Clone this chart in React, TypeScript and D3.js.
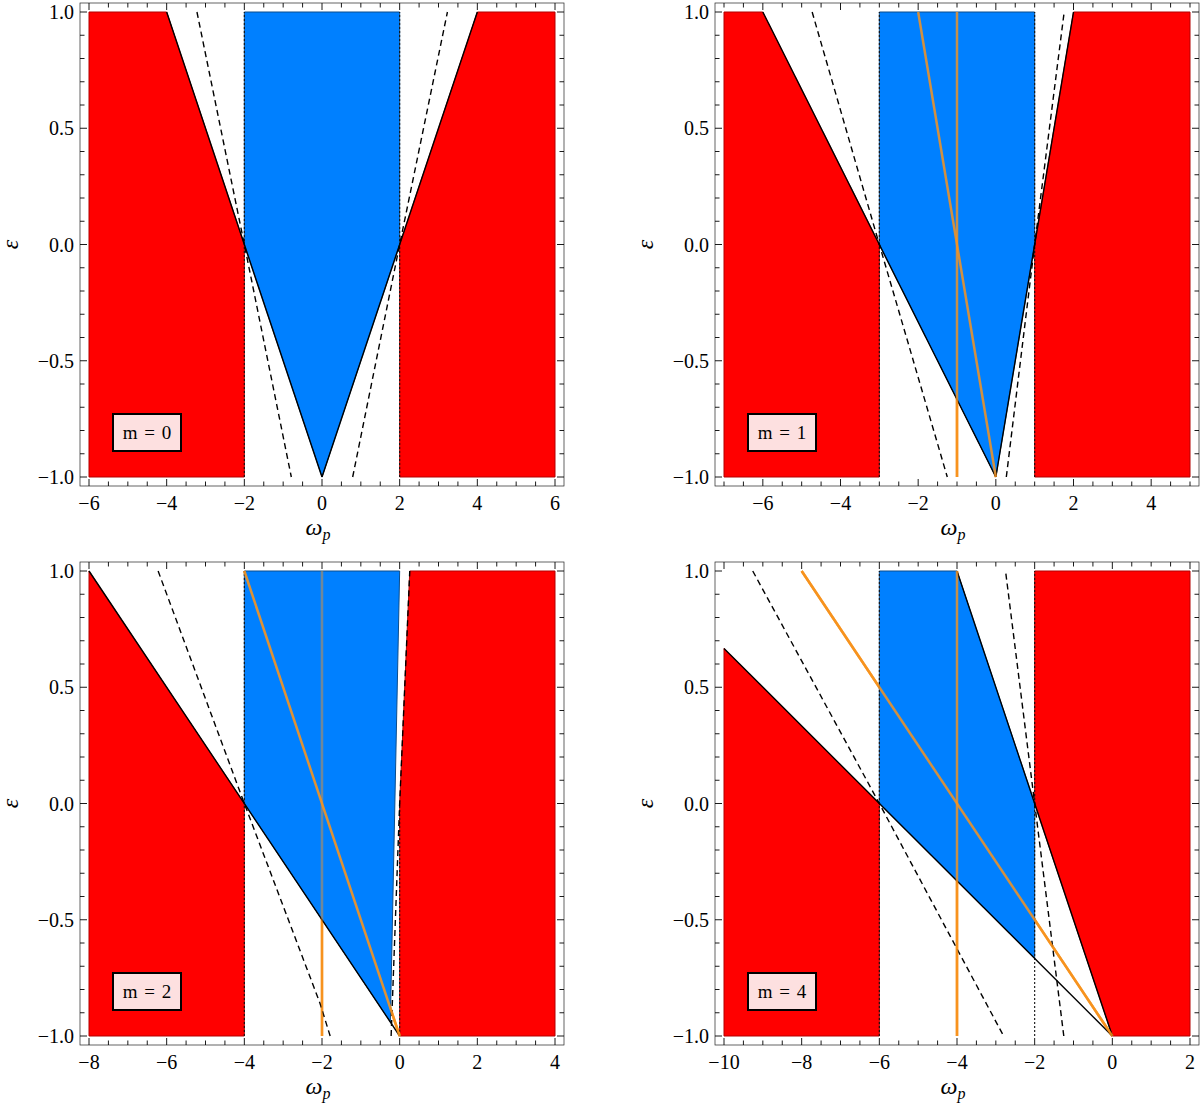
import React from 'react';
import * as d3 from 'd3';

type Pt = [number, number];

// ---------- data ----------
const panelLabels = ['m = 0', 'm = 1', 'm = 2', 'm = 4'];
const xDomains: Pt[] = [[-6, 6], [-7, 5], [-8, 4], [-10, 2]];
const yDomain: Pt = [-1, 1];
const xTickLabels = [
  [-6, -4, -2, 0, 2, 4, 6],
  [-6, -4, -2, 0, 2, 4],
  [-8, -6, -4, -2, 0, 2, 4],
  [-10, -8, -6, -4, -2, 0, 2],
];
const yTickLabels = [-1, -0.5, 0, 0.5, 1];

const redLeft: Pt[][] = [
  [[-6, 1], [-4, 1], [-2, 0], [-2, -1], [-6, -1]],
  [[-7, 1], [-6, 1], [-3, 0], [-3, -1], [-7, -1]],
  [[-8, 1], [-4, 0], [-4, -1], [-8, -1]],
  [[-10, 0.667], [-6, 0], [-6, -1], [-10, -1]],
];
const redRight: Pt[][] = [
  [[2, -1], [2, 0], [4, 1], [6, 1], [6, -1]],
  [[1, -1], [1, 0], [2, 1], [5, 1], [5, -1]],
  [[0, -1], [0, 0], [0.26, 1], [4, 1], [4, -1]],
  [[-2, 1], [2, 1], [2, -1], [0, -1], [-2, 0]],
];
const blueRegion: Pt[][] = [
  [[-2, 1], [2, 1], [2, 0], [0, -1], [-2, 0]],
  [[-3, 1], [1, 1], [1, 0], [0, -1], [-3, 0]],
  [[-4, 1], [0, 1], [-0.24, -0.94], [-4, 0]],
  [[-6, 1], [-4, 1], [-2, 0], [-2, -0.667], [-6, 0]],
];
const solidLines: Pt[][][] = [
  [[[-4, 1], [0, -1]], [[0, -1], [4, 1]]],
  [[[-6, 1], [0, -1]], [[0, -1], [2, 1]]],
  [[[-8, 1], [0, -1]]],
  [[[-10, 0.667], [0, -1]], [[-4, 1], [0, -1]]],
];
// [omega, epsFrom, epsTo]
const dottedVerticals: [number, number, number][][] = [
  [[-2, -1, 1], [2, -1, 1]],
  [[-3, -1, 1], [1, -1, 1]],
  [[-4, -1, 1], [0, -1, 0]],
  [[-6, -1, 1], [-2, -1, 1]],
];
const dashedLeft: Pt[][] = [
  [[-3.22, 1], [-2, 0], [-0.79, -1]],
  [[-4.73, 1], [-3, 0], [-1.25, -1]],
  [[-6.22, 1], [-4, 0], [-2.05, -0.86], [-1.79, -1]],
  [[-9.26, 1], [-6, 0], [-2.8, -1]],
];
const dashedRight: Pt[][] = [
  [[0.79, -1], [2, 0], [3.23, 1]],
  [[0.27, -1], [1, 0], [1.76, 1]],
  [[-0.22, -1], [0, 0], [0.26, 1]],
  [[-1.25, -1], [-2, 0], [-2.75, 1]],
];
const orangeVertical: Pt[][] = [
  [],
  [[-1, 1], [-1, -1]],
  [[-2, 1], [-2, -1]],
  [[-4, 1], [-4, -1]],
];
const orangeSlanted: Pt[][] = [
  [],
  [[-2, 1], [0, -1]],
  [[-4, 1], [0, -1]],
  [[-8, 1], [0, -1]],
];
// how strongly the orange line shows through on top of the blue region
const orangeVerticalAlpha = [0, 0.8, 0.45, 0.8];
const orangeSlantedAlpha = [0, 0.85, 0.9, 0.85];

// ---------- style ----------
const RED = '#ff0000';
const BLUE = '#0080ff';
const ORANGE = '#f7931e';
const FONT = '"Liberation Serif", "DejaVu Serif", "Times New Roman", serif';

const PW = 466;
const PH = 465;
const PAD = 9;
const origins: Pt[] = [[89, 12], [724, 12], [89, 571], [724, 571]];

function Panel({ i }: { i: number }) {
  const [ox, oy] = origins[i];
  const x = d3.scaleLinear().domain(xDomains[i]).range([ox, ox + PW]);
  const y = d3.scaleLinear().domain(yDomain).range([oy + PH, oy]);
  const line = d3.line<Pt>().x((d) => x(d[0])).y((d) => y(d[1]));
  const poly = (pts: Pt[]) => line(pts)! + 'Z';

  const fL = ox - PAD;
  const fR = ox + PW + PAD;
  const fT = oy - PAD;
  const fB = oy + PH + PAD;

  const [x0, x1] = xDomains[i];
  const xt = d3.range(Math.ceil(x0 / 0.5) * 0.5, x1 + 1e-9, 0.5);
  const yt = d3.range(-1, 1 + 1e-9, 0.1);
  const isMajX = (v: number) => Math.abs(v / 2 - Math.round(v / 2)) < 1e-6;
  const isMajY = (v: number) => Math.abs(v / 0.5 - Math.round(v / 0.5)) < 1e-6;
  const fmtY = d3.format('.1f');
  const fmtX = d3.format('d');

  const ticks: JSX.Element[] = [];
  xt.forEach((v, k) => {
    const L = isMajX(v) ? 7 : 4.5;
    const px = x(v);
    ticks.push(<line key={'xb' + k} x1={px} x2={px} y1={fB} y2={fB - L} />);
    ticks.push(<line key={'xt' + k} x1={px} x2={px} y1={fT} y2={fT + L} />);
  });
  yt.forEach((v, k) => {
    const L = isMajY(v) ? 7 : 4.5;
    const py = y(v);
    ticks.push(<line key={'yl' + k} x1={fL} x2={fL + L} y1={py} y2={py} />);
    ticks.push(<line key={'yr' + k} x1={fR} x2={fR - L} y1={py} y2={py} />);
  });

  const boxX = ox + 24;
  const boxY = oy + 402;

  return (
    <g>
      {/* regions */}
      <path d={poly(redLeft[i])} fill={RED} stroke="#b30000" strokeWidth={1} />
      <path d={poly(redRight[i])} fill={RED} stroke="#b30000" strokeWidth={1} />
      {orangeVertical[i].length > 0 && (
        <path d={line(orangeVertical[i])!} stroke={ORANGE} strokeWidth={2.5} fill="none" />
      )}
      {orangeSlanted[i].length > 0 && (
        <path d={line(orangeSlanted[i])!} stroke={ORANGE} strokeWidth={2.5} fill="none" />
      )}
      <path d={poly(blueRegion[i])} fill={BLUE} stroke="#0b4d8c" strokeWidth={1} />

      {/* dotted verticals */}
      {dottedVerticals[i].map(([w, e0, e1], k) => (
        <line key={'dv' + k} x1={x(w)} x2={x(w)} y1={y(e0)} y2={y(e1)} stroke="#111" strokeWidth={1.1} strokeDasharray="2,2" />
      ))}

      {/* solid boundaries */}
      {solidLines[i].map((seg, k) => (
        <path key={'sl' + k} d={line(seg)!} stroke="#000" strokeWidth={1.4} fill="none" />
      ))}

      {/* dashed curves */}
      <path d={line(dashedLeft[i])!} stroke="#000" strokeWidth={1.4} fill="none" strokeDasharray="6,4" />
      <path d={line(dashedRight[i])!} stroke="#000" strokeWidth={1.4} fill="none" strokeDasharray="6,4" />

      {/* orange overlays */}
      {orangeVertical[i].length > 0 && (
        <path d={line(orangeVertical[i])!} stroke={ORANGE} strokeOpacity={orangeVerticalAlpha[i]} strokeWidth={2.5} fill="none" />
      )}
      {orangeSlanted[i].length > 0 && (
        <path d={line(orangeSlanted[i])!} stroke={ORANGE} strokeOpacity={orangeSlantedAlpha[i]} strokeWidth={2.5} fill="none" />
      )}

      {/* frame */}
      <rect x={fL} y={fT} width={fR - fL} height={fB - fT} fill="none" stroke="#222" strokeWidth={0.7} />
      <g stroke="#000" strokeWidth={0.9}>{ticks}</g>

      {/* tick labels */}
      <g fontFamily={FONT} fontSize={20} fill="#000">
        {xTickLabels[i].map((v) => (
          <text key={'xl' + v} x={x(v)} y={fB + 24} textAnchor="middle">
            {fmtX(v)}
          </text>
        ))}
        {yTickLabels.map((v) => (
          <text key={'yl' + v} x={fL - 6} y={y(v)} dy="0.35em" textAnchor="end">
            {fmtY(v)}
          </text>
        ))}
      </g>

      {/* axis labels */}
      <text x={ox + PW / 2 - 4} y={fB + 49} fontFamily={FONT} fontSize={24} fontStyle="italic" textAnchor="middle">
        ω<tspan fontSize={16} dy={5}>p</tspan>
      </text>
      <text
        transform={`translate(${fL - 62},${oy + PH / 2}) rotate(-90)`}
        fontFamily={FONT}
        fontSize={24}
        fontStyle="italic"
        textAnchor="middle"
      >
        ε
      </text>

      {/* m label */}
      <rect x={boxX} y={boxY} width={68} height={37} fill="#fde0e0" stroke="#000" strokeWidth={2} />
      <text x={boxX + 34} y={boxY + 18.5} dy="0.35em" textAnchor="middle" fontFamily={FONT} fontSize={19} wordSpacing={2}>
        {panelLabels[i]}
      </text>
    </g>
  );
}

export default function App() {
  return (
    <svg
      width={1200}
      height={1111}
      viewBox="0 0 1200 1111"
      style={{ position: 'absolute', left: 0, top: 0, background: '#fff' }}
    >
      <rect x={0} y={0} width={1200} height={1111} fill="#fff" />
      {[0, 1, 2, 3].map((i) => (
        <Panel key={i} i={i} />
      ))}
    </svg>
  );
}
